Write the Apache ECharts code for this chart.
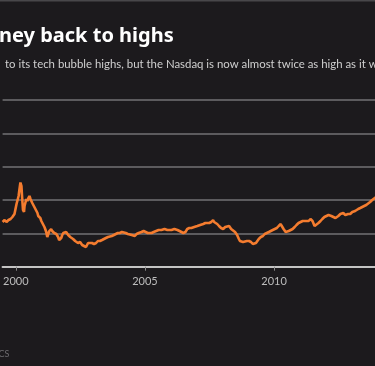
<!DOCTYPE html>
<html>
<head>
<meta charset="utf-8">
<script src="https://cdn.jsdelivr.net/npm/echarts@6/dist/echarts.min.js"></script>
<style>
html,body{margin:0;padding:0;background:#1c1a1d;}
#c{width:375px;height:366px;}
</style>
</head>
<body>
<div id="c"></div>
<script>
// Nasdaq Composite (approx.), decimal years
const dates = [1999.49,1999.57,1999.64,1999.72,1999.80,1999.87,1999.95,1999.99,2000.03,2000.07,2000.11,2000.14,2000.18,2000.22,2000.24,2000.28,2000.32,2000.34,2000.37,2000.41,2000.45,2000.49,2000.53,2000.57,2000.61,2000.64,2000.68,2000.72,2000.76,2000.80,2000.84,2000.87,2000.91,2000.95,2000.99,2001.03,2001.07,2001.11,2001.14,2001.18,2001.22,2001.26,2001.30,2001.34,2001.37,2001.41,2001.45,2001.49,2001.53,2001.57,2001.61,2001.64,2001.68,2001.72,2001.76,2001.80,2001.84,2001.87,2001.91,2001.95,2001.99,2002.03,2002.07,2002.11,2002.14,2002.18,2002.22,2002.26,2002.30,2002.34,2002.41,2002.49,2002.57,2002.64,2002.72,2002.76,2002.80,2002.87,2002.95,2003.03,2003.11,2003.18,2003.26,2003.34,2003.41,2003.49,2003.57,2003.64,2003.72,2003.80,2003.87,2003.95,2004.03,2004.11,2004.18,2004.26,2004.34,2004.41,2004.49,2004.61,2004.68,2004.76,2004.87,2004.95,2005.03,2005.11,2005.18,2005.26,2005.34,2005.41,2005.53,2005.64,2005.76,2005.87,2005.95,2006.03,2006.14,2006.26,2006.34,2006.41,2006.49,2006.57,2006.64,2006.72,2006.80,2006.91,2007.03,2007.14,2007.26,2007.34,2007.41,2007.49,2007.57,2007.64,2007.68,2007.72,2007.80,2007.87,2007.95,2008.03,2008.11,2008.18,2008.26,2008.34,2008.41,2008.49,2008.57,2008.64,2008.68,2008.72,2008.80,2008.87,2008.95,2009.03,2009.11,2009.18,2009.22,2009.30,2009.34,2009.41,2009.49,2009.57,2009.64,2009.72,2009.80,2009.87,2009.95,2010.03,2010.11,2010.18,2010.26,2010.30,2010.37,2010.45,2010.49,2010.57,2010.64,2010.72,2010.80,2010.87,2010.95,2011.03,2011.11,2011.18,2011.26,2011.34,2011.41,2011.45,2011.49,2011.57,2011.64,2011.72,2011.80,2011.87,2011.95,2012.03,2012.11,2012.14,2012.22,2012.30,2012.38,2012.41,2012.49,2012.57,2012.64,2012.68,2012.76,2012.80,2012.87,2012.95,2013.03,2013.14,2013.26,2013.34,2013.41,2013.49,2013.57,2013.64,2013.72,2013.80,2013.87,2013.95,2014.03];
const nasdaq = [2680,2800,2680,2800,2860,2980,3160,3460,3760,4000,4240,4600,5050,4840,4300,3400,3280,3640,3820,4060,3940,4120,4240,4060,4000,3820,3700,3580,3460,3340,3220,3040,3100,2920,2740,2620,2500,2380,2260,2080,1780,1960,2140,2200,2260,2140,2080,2020,2080,1960,1900,1780,1600,1540,1720,1900,2020,2020,1960,2080,2020,1900,1840,1780,1780,1720,1660,1600,1540,1540,1420,1480,1300,1240,1180,1300,1420,1360,1420,1360,1420,1540,1540,1600,1660,1720,1780,1840,1840,1900,1960,2020,2020,2080,2080,2020,1960,2020,1900,1840,1960,2020,2080,2140,2080,2020,1960,2020,2080,2080,2200,2200,2260,2200,2200,2200,2260,2200,2140,2140,2020,2080,2260,2320,2320,2380,2440,2500,2560,2620,2560,2620,2680,2800,2680,2740,2560,2440,2320,2260,2380,2440,2440,2260,2200,2080,1900,1660,1540,1600,1480,1480,1540,1540,1480,1360,1300,1420,1480,1660,1780,1840,1960,2020,2080,2140,2200,2260,2320,2440,2560,2440,2260,2080,2140,2140,2200,2260,2380,2500,2620,2680,2740,2800,2740,2740,2860,2920,2740,2440,2500,2620,2740,2860,2980,3040,3100,3160,3040,2980,2920,2920,3040,3160,3220,3220,3100,3040,3160,3160,3280,3340,3460,3520,3520,3640,3700,3760,3880,4000,4060,4180,4300];
const yearLabels = [2000, 2005, 2010];
const yTicks = [0, 2000, 4000, 6000, 8000, 10000];
const titleText = "ney back to highs";
const subtitleText = "to its tech bubble highs, but the Nasdaq is now almost twice as high as it was";
const sourceText = "REUTERS GRAPHICS";

const chart = echarts.init(document.getElementById('c'), null, {renderer: 'canvas'});
const seriesData = dates.map((d, i) => [d, nasdaq[i]]);
chart.setOption({
  backgroundColor: '#1c1a1d',
  animation: false,
  grid: {left: 0, right: 0, top: 100, bottom: 99.33, containLabel: false},
  xAxis: {
    type: 'value',
    min: 1999.49,
    max: 2013.91,
    splitLine: {show: false},
    axisLine: {show: true, lineStyle: {color: '#c4c4c4', width: 2}},
    axisTick: {show: true, customValues: yearLabels, length: 4, lineStyle: {color: '#8a8a8a', width: 1}},
    axisLabel: {
      show: true, customValues: yearLabels, color: '#bdbdbd', fontSize: 11,
      fontFamily: 'Lato', margin: 9, formatter: v => String(v)
    }
  },
  yAxis: {
    type: 'value',
    min: yTicks[0],
    max: yTicks[yTicks.length - 1],
    interval: 2000,
    axisLine: {show: false},
    axisTick: {show: false},
    axisLabel: {show: false},
    splitLine: {show: true, lineStyle: {color: '#5c5b5e', width: 2}}
  },
  series: [{
    type: 'line',
    data: seriesData,
    showSymbol: false,
    symbol: 'none',
    lineStyle: {color: '#f47c2f', width: 2.6},
    clip: true,
    z: 5
  }],
  graphic: [
    {type: 'rect', shape: {x: 0, y: 0, width: 375, height: 1.5}, style: {fill: '#48474a'}, silent: true},
    {type: 'text', x: -1, y: 36.5, style: {text: titleText, fill: '#ffffff', font: 'bold 20px "Noto Sans"', textVerticalAlign: 'middle'}},
    {type: 'text', x: 5, y: 64, style: {text: subtitleText, fill: '#cfcfcf', font: '11.4px Lato', textVerticalAlign: 'middle'}},
    {type: 'text', x: 9.5, y: 354, style: {text: sourceText, fill: '#6c6b6e', font: '9px Lato', textAlign: 'right', textVerticalAlign: 'middle'}}
  ]
});
</script>
</body>
</html>
